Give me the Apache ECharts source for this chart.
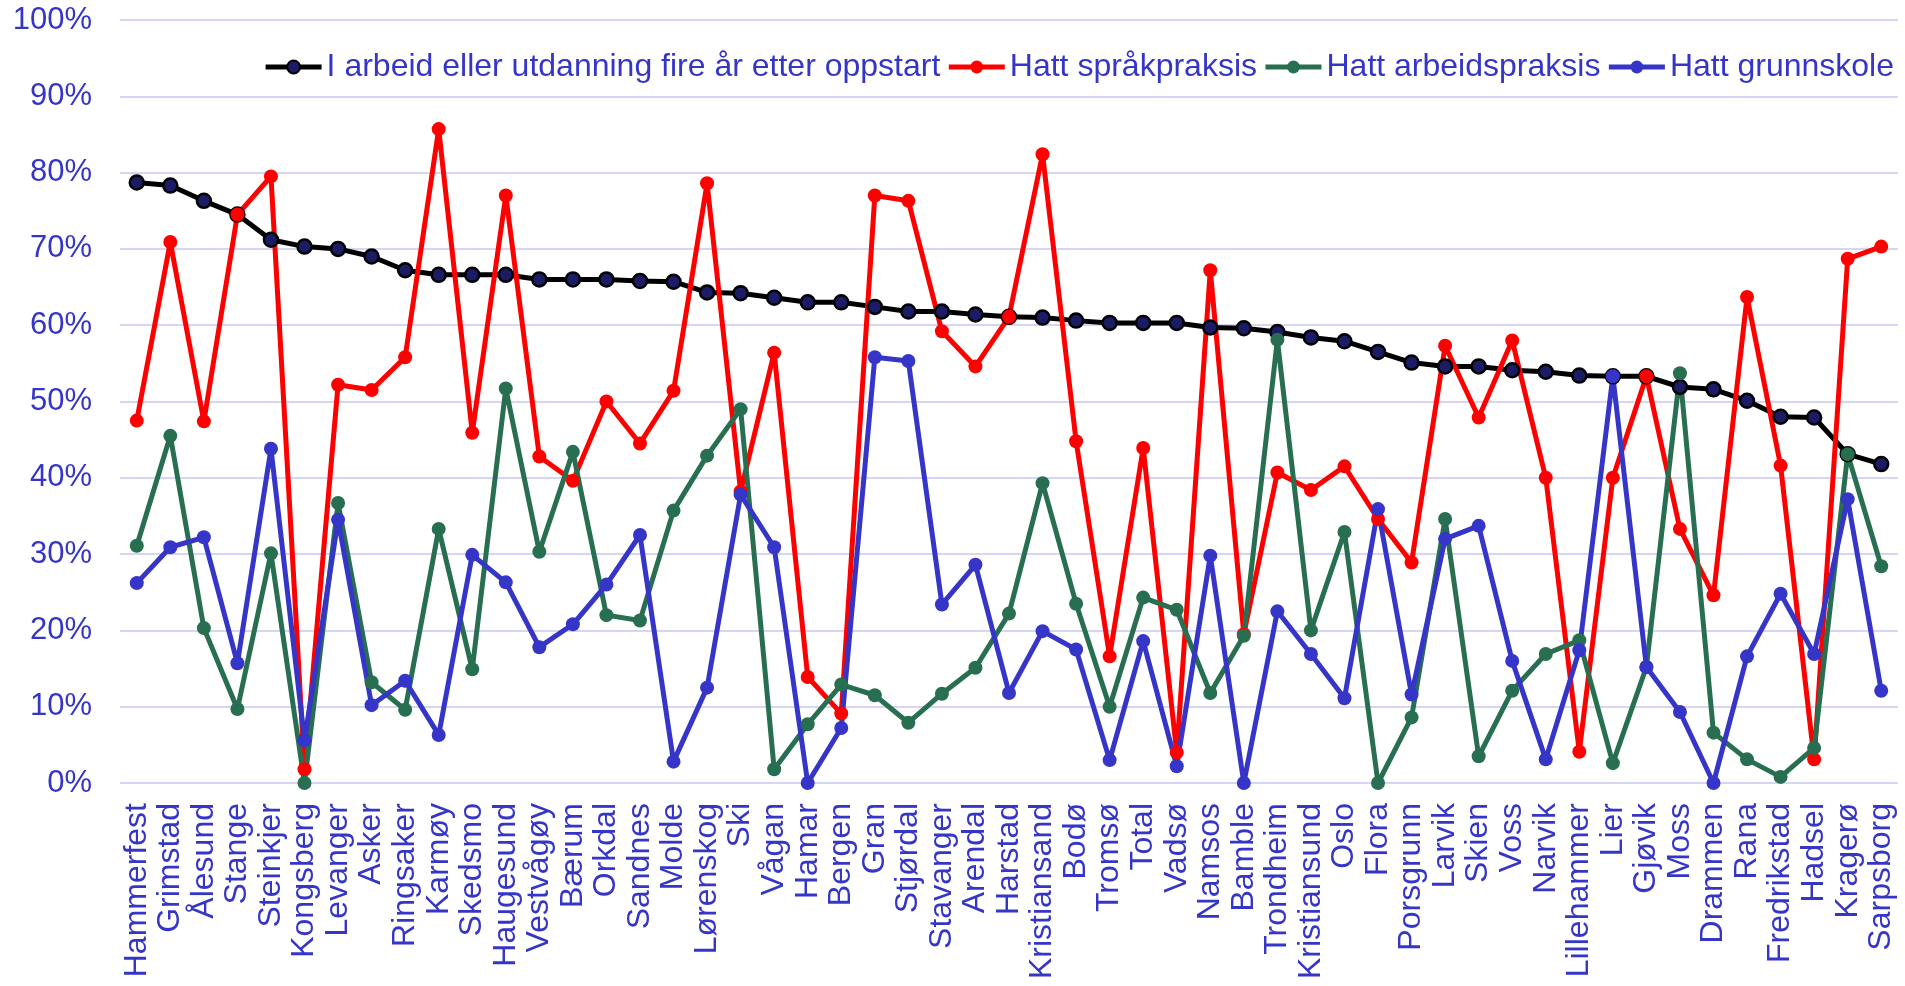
<!DOCTYPE html>
<html>
<head>
<meta charset="utf-8">
<title>Kommuner</title>
<script src="https://cdn.jsdelivr.net/npm/echarts@6/dist/echarts.min.js"></script>
<style>
html, body { margin: 0; padding: 0; background: #fff; }
#chart { width: 1905px; height: 986px; }
</style>
</head>
<body>
<div id="chart"></div>
<script>
let kommuner = ['Hammerfest', 'Grimstad', 'Ålesund', 'Stange', 'Steinkjer', 'Kongsberg', 'Levanger', 'Asker',
    'Ringsaker', 'Karmøy', 'Skedsmo', 'Haugesund', 'Vestvågøy', 'Bærum', 'Orkdal', 'Sandnes', 'Molde',
    'Lørenskog', 'Ski', 'Vågan', 'Hamar', 'Bergen', 'Gran', 'Stjørdal', 'Stavanger', 'Arendal', 'Harstad',
    'Kristiansand', 'Bodø', 'Tromsø', 'Total', 'Vadsø', 'Namsos', 'Bamble', 'Trondheim', 'Kristiansund',
    'Oslo', 'Flora', 'Porsgrunn', 'Larvik', 'Skien', 'Voss', 'Narvik', 'Lillehammer', 'Lier', 'Gjøvik',
    'Moss', 'Drammen', 'Rana', 'Fredrikstad', 'Hadsel', 'Kragerø', 'Sarpsborg']

let iArbeid = [78.7, 78.3, 76.3, 74.5, 71.2, 70.3, 70.0, 69.0, 67.2, 66.6, 66.6, 66.6, 66.0, 66.0, 66.0, 65.8, 65.7,
    64.3, 64.2, 63.6, 63.0, 63.0, 62.4, 61.8, 61.8, 61.4, 61.1, 61.0, 60.6, 60.3, 60.3, 60.3, 59.7, 59.6, 59.1, 58.4,
    57.9, 56.5, 55.1, 54.6, 54.6, 54.1, 53.9, 53.4, 53.3, 53.3, 51.9, 51.6, 50.1, 48.0, 47.9, 43.1, 41.8]

let spraakpraksis = [47.5, 70.9, 47.4, 74.5, 79.5, 1.8, 52.2, 51.5, 55.8, 85.7, 45.9, 77.0, 42.8, 39.6, 50.0, 44.5, 51.4,
    78.6, 38.2, 56.4, 13.9, 9.1, 77.0, 76.3, 59.2, 54.6, 61.1, 82.4, 44.8, 16.6, 43.9, 4.0, 67.2, 19.5, 40.7, 38.4,
    41.5, 34.6, 28.9, 57.3, 47.9, 58.0, 40.0, 4.1, 40.0, 53.3, 33.3, 24.6, 63.7, 41.6, 3.1, 68.7, 70.3]

let arbeidspraksis = [31.1, 45.5, 20.3, 9.7, 30.1, 0, 36.7, 13.2, 9.6, 33.3, 14.9, 51.7, 30.3, 43.4, 22.0, 21.3, 35.7,
    42.9, 49.0, 1.8, 7.7, 12.9, 11.5, 7.9, 11.7, 15.1, 22.2, 39.3, 23.5, 10.0, 24.3, 22.7, 11.8, 19.3, 58.1, 20.0,
    32.9, 0, 8.6, 34.6, 3.5, 12.1, 16.9, 18.7, 2.6, 15.2, 53.7, 6.6, 3.1, 0.8, 4.6, 43.1, 28.4]

let grunnskole = [26.2, 30.9, 32.2, 15.7, 43.8, 5.6, 34.5, 10.2, 13.4, 6.3, 29.9, 26.3, 17.8, 20.8, 26.0, 32.5, 2.8,
    12.5, 37.8, 30.9, 0, 7.2, 55.8, 55.3, 23.4, 28.6, 11.8, 19.9, 17.5, 3.0, 18.6, 2.2, 29.8, 0, 22.5, 16.9,
    11.1, 35.9, 11.6, 32.0, 33.7, 16.0, 3.1, 17.4, 53.3, 15.2, 9.3, 0, 16.6, 24.8, 16.9, 37.2, 12.1]

let yTicks = [0, 10, 20, 30, 40, 50, 60, 70, 80, 90, 100]

const tekstBlaa = '#3535C8'
const fontNavn = '"Liberation Sans", Arial, sans-serif'

function linje(navn, data, farge, fyll, kant) {
    return {
        name: navn,
        type: 'line',
        data: data,
        symbol: 'circle',
        symbolSize: 14,
        showAllSymbol: true,
        lineStyle: { color: farge, width: 5 },
        itemStyle: {
            color: fyll || farge,
            borderColor: kant || farge,
            borderWidth: kant ? 2.5 : 0
        },
        emphasis: { disabled: true },
        animation: false
    }
}

let chart = echarts.init(document.getElementById('chart'))
let option = {
    backgroundColor: '#ffffff',
    textStyle: { fontFamily: fontNavn },
    legend: {
        right: 6,
        top: 46,
        itemWidth: 56,
        itemHeight: 16,
        itemGap: 6,
        lineStyle: { width: 5 },
        textStyle: { color: tekstBlaa, fontSize: 32, fontFamily: fontNavn },
        data: ['I arbeid eller utdanning fire år etter oppstart', 'Hatt språkpraksis', 'Hatt arbeidspraksis', 'Hatt grunnskole']
    },
    grid: { left: 120, right: 7, top: 20, bottom: 203 },
    xAxis: {
        type: 'category',
        data: kommuner,
        boundaryGap: true,
        axisLine: { show: false },
        axisTick: { show: false },
        axisLabel: {
            interval: 0,
            rotate: 90,
            margin: 20,
            color: tekstBlaa,
            fontSize: 32,
            fontFamily: fontNavn
        }
    },
    yAxis: {
        type: 'value',
        min: yTicks[0],
        max: yTicks[yTicks.length - 1],
        interval: 10,
        axisLine: { show: false },
        axisTick: { show: false },
        splitLine: { lineStyle: { color: '#D6D6F4', width: 2 } },
        axisLabel: {
            formatter: '{value}%',
            margin: 28,
            color: tekstBlaa,
            fontSize: 31,
            fontFamily: fontNavn
        }
    },
    series: [
        linje('I arbeid eller utdanning fire år etter oppstart', iArbeid, '#000000', '#1C1C66', '#000000'),
        linje('Hatt språkpraksis', spraakpraksis, '#FF0000'),
        linje('Hatt arbeidspraksis', arbeidspraksis, '#286E50'),
        linje('Hatt grunnskole', grunnskole, '#3535C8')
    ]
}
chart.setOption(option)
window.addEventListener('resize', function () {
    chart.resize()
})
</script>
</body>
</html>
